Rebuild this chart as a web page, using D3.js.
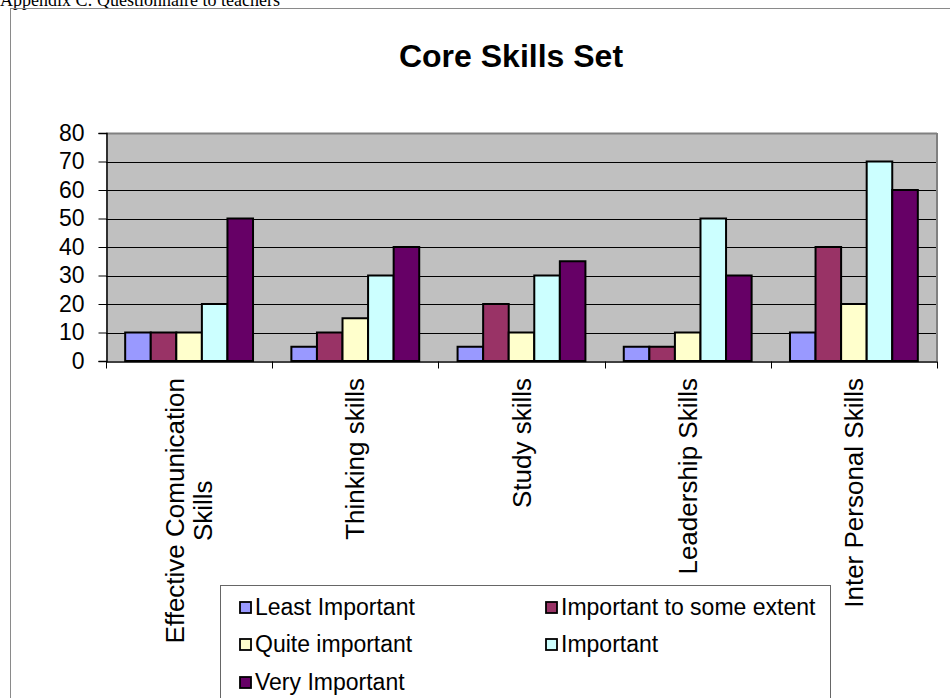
<!DOCTYPE html>
<html>
<head>
<meta charset="utf-8">
<script src="https://cdn.jsdelivr.net/npm/d3@7"></script>
<style>
  html, body { margin: 0; padding: 0; background: #fff; }
  svg { display: block; }
  text { font-family: "Liberation Sans", Arial, sans-serif; }
</style>
</head>
<body>
<svg id="chart" width="950" height="698"></svg>
<script>
// ---- data ----
const categories = [
  ["Effective Comunication", "Skills"],
  ["Thinking skills"],
  ["Study skills"],
  ["Leadership Skills"],
  ["Inter Personal Skills"]
];
const seriesNames = ["Least Important", "Important to some extent", "Quite important", "Important", "Very Important"];
const leastImportant = [10, 5, 5, 5, 10];
const importantSomeExtent = [10, 10, 20, 5, 40];
const quiteImportant = [10, 15, 10, 10, 20];
const important = [20, 30, 30, 50, 70];
const veryImportant = [50, 40, 35, 30, 60];
const seriesColors = ["#9999FF", "#993366", "#FFFFCC", "#CCFFFF", "#660066"];
const yTicks = [0, 10, 20, 30, 40, 50, 60, 70, 80];
const titleText = "Core Skills Set";
const headerText = "Appendix C: Questionnaire to teachers";

const seriesValues = [leastImportant, importantSomeExtent, quiteImportant, important, veryImportant];

const svg = d3.select("#chart");

// header text (cut off at top, as in the source page)
svg.append("text").attr("x", 0).attr("y", 6)
  .style("font-family", "'Liberation Serif', 'Times New Roman', serif")
  .style("font-size", "18px").attr("fill", "#000").text(headerText);

// outer frame
svg.append("rect").attr("x", 10.5).attr("y", 8.5).attr("width", 1000).attr("height", 720)
  .attr("fill", "none").attr("stroke", "#8a8a8a").attr("stroke-width", 1);

// title
svg.append("text").attr("x", 511).attr("y", 67).attr("text-anchor", "middle")
  .style("font-size", "32px").style("font-weight", "bold").text(titleText);

// scales
const pLeft = 106, pRight = 937, pTop = 133, pBottom = 361;
const x = d3.scaleBand().domain(d3.range(categories.length)).range([pLeft, pRight]).paddingInner(0).paddingOuter(0);
const xs = d3.scaleBand().domain(d3.range(seriesNames.length)).range([0, x.bandwidth()]).paddingInner(0).paddingOuter(0.75);
const y = d3.scaleLinear().domain([0, 80]).range([pBottom, pTop]);

// plot background
svg.append("rect").attr("x", pLeft).attr("y", pTop).attr("width", pRight - pLeft).attr("height", pBottom - pTop)
  .attr("fill", "#C0C0C0");

// gridlines
svg.append("g").selectAll("line").data(yTicks.filter(d => d > 0)).join("line")
  .attr("x1", pLeft).attr("x2", pRight)
  .attr("y1", d => Math.round(y(d)) + 0.5).attr("y2", d => Math.round(y(d)) + 0.5)
  .attr("stroke", d => d === 80 ? "#808080" : "#000").attr("stroke-width", d => d === 80 ? 2 : 1);

// plot border right
svg.append("line").attr("x1", pRight).attr("x2", pRight).attr("y1", pTop).attr("y2", pBottom)
  .attr("stroke", "#808080").attr("stroke-width", 2);

// bars
const groups = svg.append("g").selectAll("g").data(categories).join("g")
  .attr("transform", (d, i) => `translate(${x(i)},0)`);
groups.selectAll("rect").data((d, i) => seriesValues.map((s, j) => ({ j, v: s[i] }))).join("rect")
  .attr("x", d => xs(d.j)).attr("width", xs.bandwidth())
  .attr("y", d => y(d.v)).attr("height", d => y(0) - y(d.v))
  .attr("fill", d => seriesColors[d.j]).attr("stroke", "#000").attr("stroke-width", 2);

// y axis
const yAxis = d3.axisLeft(y).tickValues(yTicks).tickSize(8).tickPadding(14);
const yg = svg.append("g").attr("transform", `translate(${pLeft + 0.5},0)`).call(yAxis);
yg.select(".domain").attr("stroke", "#000").attr("stroke-width", 1.5);
yg.selectAll(".tick line").attr("stroke", "#000");
yg.selectAll(".tick text").style("font-size", "23px").style("font-family", "'Liberation Sans', Arial, sans-serif").attr("fill", "#000");

// x axis
const xAxis = d3.axisBottom(x).tickSize(0).tickFormat("");
const xg = svg.append("g").attr("transform", `translate(0,${pBottom + 0.5})`).call(xAxis);
xg.select(".domain").attr("stroke", "#000").attr("stroke-width", 1.5);
const boundaries = d3.range(categories.length + 1).map(i => i < categories.length ? x(i) : x.range()[1]);
xg.selectAll("line.bt").data(boundaries).join("line").attr("class", "bt")
  .attr("x1", d => Math.round(d) + 0.5).attr("x2", d => Math.round(d) + 0.5)
  .attr("y1", 0).attr("y2", 7).attr("stroke", "#000");

// category labels (rotated)
const labelTop = 378;
const lineGap = 28;
const labelSize = "26px";
categories.forEach((lines, i) => {
  const cx = x(i) + x.bandwidth() / 2;
  const n = lines.length;
  const tmp = lines.map(l => {
    const t = svg.append("text").style("font-size", labelSize).text(l);
    const w = t.node().getComputedTextLength();
    t.remove();
    return w;
  });
  const maxW = d3.max(tmp);
  lines.forEach((l, k) => {
    const lx = cx + (k - (n - 1) / 2) * lineGap;
    const ly = labelTop + maxW / 2;
    svg.append("text")
      .attr("transform", `translate(${lx},${ly}) rotate(-90)`)
      .attr("text-anchor", "middle").attr("dy", "0.35em")
      .style("font-size", labelSize).text(l);
  });
});

// legend
const lg = svg.append("g");
lg.append("rect").attr("x", 220.5).attr("y", 585.5).attr("width", 610).attr("height", 140)
  .attr("fill", "#fff").attr("stroke", "#666").attr("stroke-width", 1);
const legendPos = [[240, 607], [546, 607], [240, 644], [546, 644], [240, 682]];
seriesNames.forEach((name, j) => {
  const [lx, ly] = legendPos[j];
  lg.append("rect").attr("x", lx).attr("y", ly - 5).attr("width", 11).attr("height", 11)
    .attr("fill", seriesColors[j]).attr("stroke", "#000").attr("stroke-width", 1.8);
  lg.append("text").attr("x", lx + 15).attr("y", ly).attr("dy", "0.35em")
    .style("font-size", "23px").text(name);
});
</script>
</body>
</html>
